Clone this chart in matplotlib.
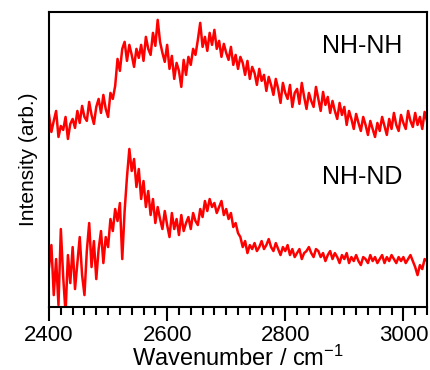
import matplotlib
matplotlib.use("Agg")
import matplotlib.pyplot as plt
from matplotlib.ticker import MultipleLocator
import numpy as np

plt.rcParams['font.family'] = ['Liberation Sans', 'DejaVu Sans']
plt.rcParams['mathtext.default'] = 'regular'
plt.rcParams['axes.linewidth'] = 1.5
plt.rcParams['xtick.direction'] = 'out'
plt.rcParams['xtick.major.size'] = 10
plt.rcParams['xtick.minor.size'] = 6
plt.rcParams['xtick.major.width'] = 1.5
plt.rcParams['xtick.minor.width'] = 1.5
plt.rcParams['xtick.major.pad'] = 3
plt.rcParams['xtick.labelsize'] = 16

# wavenumber grid (cm-1), 4 cm-1 spacing
wavenumber = np.arange(2400, 3041, 4)

# NH-NH spectrum (arb., offset upward)
nh_nh = [
    192, 175, 186, 196, 170, 181, 177, 190, 168, 183,   # 2400-2436
    188, 179, 196, 184, 201, 190, 186, 205, 192, 183,   # 2440-2476
    200, 208, 194, 212, 198, 190, 214, 208, 221, 248,   # 2480-2516
    236, 258, 265, 246, 262, 252, 240, 258, 249, 262,   # 2520-2556
    246, 270, 258, 252, 274, 261, 287, 265, 254, 245,   # 2560-2596
    262, 238, 251, 228, 244, 236, 220, 247, 232, 250,   # 2600-2636
    242, 258, 252, 267, 284, 260, 270, 256, 274, 262,   # 2640-2676
    277, 258, 266, 250, 263, 254, 247, 260, 242, 252,   # 2680-2716
    238, 250, 244, 232, 246, 228, 240, 234, 222, 238,   # 2720-2756
    226, 232, 216, 230, 222, 212, 228, 218, 204, 224,   # 2760-2796
    214, 208, 222, 200, 214, 218, 203, 224, 210, 198,   # 2800-2836
    214, 206, 200, 220, 208, 196, 215, 202, 210, 194,   # 2840-2876
    206, 196, 188, 204, 192, 200, 182, 196, 188, 178,   # 2880-2916
    193, 184, 176, 190, 182, 172, 186, 178, 170, 184,   # 2920-2956
    176, 190, 181, 172, 188, 178, 194, 182, 176, 192,   # 2960-2996
    184, 178, 196, 186, 180, 194, 182, 190, 178, 195,   # 3000-3036
    186,                                                # 3040
]

# NH-ND spectrum (arb.)
nh_nd = [
    40, 62, 12, 48, 2, 78, 30, -6, 52, 24,              # 2400-2436
    60, 18, 44, 70, 32, 12, 56, 84, 40, 66,             # 2440-2476
    28, 58, 76, 44, 70, 60, 88, 76, 98, 86,             # 2480-2516
    104, 48, 96, 130, 158, 136, 148, 120, 138, 108,     # 2520-2556
    126, 100, 116, 92, 108, 84, 100, 88, 78, 96,        # 2560-2596
    82, 70, 94, 78, 88, 72, 92, 76, 84, 90,             # 2600-2636
    78, 94, 86, 82, 98, 90, 106, 96, 108, 100,          # 2640-2676
    104, 94, 100, 106, 92, 98, 88, 94, 80, 84,          # 2680-2716
    74, 70, 60, 66, 54, 62, 58, 64, 56, 60,             # 2720-2756
    66, 58, 62, 68, 60, 56, 64, 58, 52, 60,             # 2760-2796
    56, 62, 52, 58, 50, 54, 58, 48, 54, 56,             # 2800-2836
    60, 54, 50, 58, 56, 50, 54, 46, 52, 56,             # 2840-2876
    48, 54, 50, 44, 52, 48, 54, 44, 50, 46,             # 2880-2916
    52, 46, 42, 50, 48, 44, 52, 46, 50, 44,             # 2920-2956
    48, 52, 44, 50, 46, 52, 48, 44, 50, 46,             # 2960-2996
    50, 44, 48, 52, 46, 40, 32, 42, 38, 48,             # 3000-3036
    46,                                                 # 3040
]

fig = plt.figure(figsize=(4.3, 3.7), dpi=100)
ax = fig.add_axes([0.114, 0.170, 0.879, 0.798])

ax.plot(wavenumber, nh_nh, color='red', lw=1.8)
ax.plot(wavenumber, nh_nd, color='red', lw=1.8)

ax.text(2862, 261, 'NH-NH', fontsize=18, va='center', ha='left')
ax.text(2862, 130, 'NH-ND', fontsize=18, va='center', ha='left')

ax.set_xlim(2400, 3040)
ax.set_ylim(0, 295)
ax.set_yticks([])
ax.xaxis.set_major_locator(MultipleLocator(200))
ax.xaxis.set_minor_locator(MultipleLocator(20))

ax.set_xlabel('Wavenumber / cm$^{-1}$', fontsize=17, labelpad=0)
ax.set_ylabel('Intensity (arb.)', fontsize=15, labelpad=8)

fig.savefig('out.png', dpi=100)
